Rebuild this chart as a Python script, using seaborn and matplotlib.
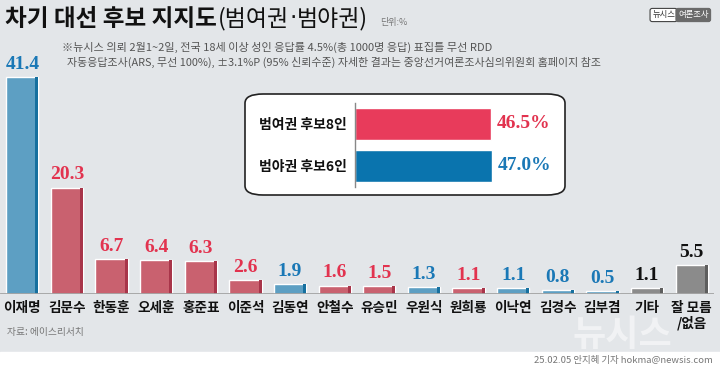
import numpy as np
import pandas as pd
import matplotlib
matplotlib.use("Agg")
import matplotlib.pyplot as plt
import seaborn as sns
from matplotlib.patches import Rectangle, FancyBboxPatch

# data
names = ["이재명", "김문수", "한동훈", "오세훈", "홍준표", "이준석", "김동연", "안철수",
         "유승민", "우원식", "원희룡", "이낙연", "김경수", "김부겸", "기타", "잘 모름\n/없음"]
values = [41.4, 20.3, 6.7, 6.4, 6.3, 2.6, 1.9, 1.6, 1.5, 1.3, 1.1, 1.1, 0.8, 0.5, 1.1, 5.5]
camp = ["b", "r", "r", "r", "r", "r", "b", "r", "r", "b", "r", "b", "b", "b", "g", "g"]

group_names = ["범여권 후보8인", "범야권 후보6인"]
group_values = [46.5, 47.0]

bar_col = {"r": "#c9616f", "b": "#5d9fc3", "g": "#8b8b8b"}
side_col = {"r": "#a8354a", "b": "#16709f", "g": "#5e5e5e"}
txt_col = {"r": "#e2334f", "b": "#1a78b6", "g": "#111111"}

sns.set_theme(style="white")
plt.rcParams['font.family'] = ['Noto Sans CJK KR', 'DejaVu Sans']

BG = "#e3e6e9"
W, H = 720, 368
fig = plt.figure(figsize=(7.2, 3.68), dpi=100)
fig.patch.set_facecolor(BG)
renderer = fig.canvas.get_renderer()

def fx(x):
    return x / W

def fy(y):
    return 1 - y / H

# bottom white strip
fig.add_artist(Rectangle((0, 0), 1, 16 / H, transform=fig.transFigure, color="white", zorder=0))

# watermark
fig.text(fx(622), fy(346), "뉴시스", fontsize=26, fontweight="bold", color="white",
         alpha=0.5, ha="center", va="baseline", zorder=0)

# main bars
ax = fig.add_axes([fx(0), fy(294), fx(714), (294 - 58) / H])
ax.set_facecolor("none")
df = pd.DataFrame({"name": names, "value": values})
sns.barplot(data=df, x="name", y="value", hue="name", palette=[bar_col[c] for c in camp],
            legend=False, width=0.72, ax=ax, saturation=1, zorder=2)
for p, c in zip(ax.patches, camp):
    dw = p.get_width() * 0.09
    ax.add_patch(Rectangle((p.get_x() + p.get_width() - dw, 0), dw, p.get_height(),
                           color=side_col[c], lw=0, zorder=3))
    ax.annotate(f"{p.get_height():.1f}", (p.get_x() + p.get_width() / 2, p.get_height()),
                xytext=(0, 3), textcoords="offset points", ha="center", va="bottom",
                fontsize=14, fontweight="bold", family="Liberation Serif", color=txt_col[c])
ax.set_ylim(0, 45)
ax.set_xlim(-0.5, 15.5)
ax.axhline(0, color="#a3a3a3", lw=2, zorder=4)
sns.despine(ax=ax, left=True, bottom=True)
ax.set_yticks([])
ax.set_xlabel("")
ax.set_ylabel("")
ax.tick_params(axis="x", length=0, pad=5)
for t in ax.get_xticklabels():
    t.set_fontsize(9.8)
    t.set_fontweight("bold")
    t.set_color("#111111")
    t.set_linespacing(1.05)
    t.set_va("top")

# inset box
box = FancyBboxPatch((fx(245), fy(195)), fx(565 - 245), (195 - 94) / H,
                     boxstyle="round,pad=0,rounding_size=0.025", transform=fig.transFigure,
                     facecolor="white", edgecolor="#222222", lw=1.2, zorder=1)
fig.add_artist(box)
ax2 = fig.add_axes([fx(355), fy(187), fx(200), (187 - 103) / H])
ax2.set_zorder(3)
ax2.set_facecolor("none")
gdf = pd.DataFrame({"group": group_names, "value": group_values})
sns.barplot(data=gdf, y="group", x="value", hue="group", palette=["#e83b5b", "#0a74ae"],
            legend=False, width=0.76, ax=ax2, saturation=1, orient="h")
ax2.set_xlim(0, 68.4)
ax2.set_xticks([])
ax2.set_xlabel("")
ax2.set_ylabel("")
for s in ["top", "right", "bottom"]:
    ax2.spines[s].set_visible(False)
ax2.spines["left"].set_color("#888888")
ax2.spines["left"].set_linewidth(1)
ax2.tick_params(axis="y", length=0, pad=6)
for t in ax2.get_yticklabels():
    t.set_fontsize(10)
    t.set_fontweight("bold")
    t.set_color("#111111")
for p, c in zip(ax2.patches, ["#e2334f", "#1a78b6"]):
    ax2.annotate(f"{p.get_width():.1f}%", (p.get_width(), p.get_y() + p.get_height() / 2),
                 xytext=(4, 0), textcoords="offset points", ha="left", va="center",
                 fontsize=14, fontweight="bold", family="Liberation Serif", color=c)

# title: bold part, then the bracket part in pieces so the middle dot stays narrow
fig.text(fx(5), fy(19), "차기 대선 후보 지지도", fontsize=17, fontweight="bold",
         color="#111111", ha="left", va="center")
x = 218
for piece, fam in [("(범여권", None), ("·", "DejaVu Sans"), ("범야권)", None)]:
    kw = {"family": fam} if fam else {}
    t = fig.text(fx(x), fy(19), piece, fontsize=16.5, color="#111111",
                 ha="left", va="center", **kw)
    x += t.get_window_extent(renderer).width

fig.text(fx(380), fy(23), "단위:%", fontsize=6.5, color="#777777", ha="left", va="center")
fig.text(fx(62), fy(47), "※뉴시스 의뢰 2월1~2일, 전국 18세 이상 성인 응답률 4.5%(총 1000명 응답) 표집틀 무선 RDD",
         fontsize=8, color="#555555", ha="left", va="center")
fig.text(fx(67), fy(62), "자동응답조사(ARS, 무선 100%), ±3.1%P (95% 신뢰수준) 자세한 결과는 중앙선거여론조사심의위원회 홈페이지 참조",
         fontsize=7.9, color="#555555", ha="left", va="center")

# logo
fig.text(fx(675), fy(15), "뉴시스", fontsize=6, color="#333333", ha="right", va="center",
         bbox=dict(boxstyle="round,pad=0.25", fc="white", ec="#444444", lw=0.8))
fig.text(fx(678), fy(15), "여론조사", fontsize=6, color="white", ha="left", va="center",
         bbox=dict(boxstyle="round,pad=0.25", fc="#6a6a6a", ec="#6a6a6a", lw=0.8))

# source / credit
fig.text(fx(7), fy(332), "자료: 에이스리서치", fontsize=7, color="#777777", ha="left", va="center")
fig.text(fx(713), fy(360), "25.02.05 안지혜 기자 hokma@newsis.com", fontsize=6.8,
         color="#777777", ha="right", va="center")

fig.savefig("out.png", dpi=100, facecolor=fig.get_facecolor())
